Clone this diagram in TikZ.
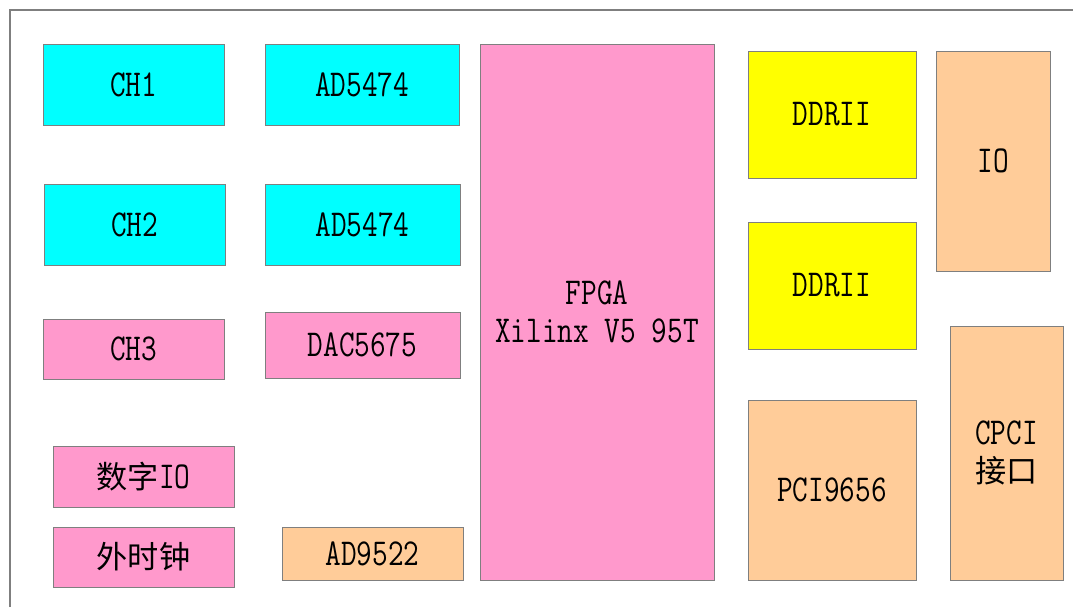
\documentclass[tikz,border=0pt]{standalone}
\usepackage{fontspec}
\setmonofont[FakeStretch=0.8]{Latin Modern Mono}
\newfontfamily\cjk[Scale=0.82]{Noto Sans CJK SC}
\usetikzlibrary{positioning}
\definecolor{chipCyan}{HTML}{00FFFF}
\definecolor{chipPink}{HTML}{FF99CC}
\definecolor{chipPeach}{HTML}{FFCC99}
\definecolor{chipYellow}{HTML}{FFFF00}
\definecolor{chipEdge}{HTML}{7F7F7F}

\begin{document}
\begin{tikzpicture}[
        x=0.5pt, y=-0.5pt,
        chip/.style={rectangle, draw=chipEdge, line width=0.5pt, inner sep=0pt,
            font=\ttfamily\fontsize{19}{19}\selectfont, align=center},
        adc/.style={chip, fill=chipCyan},
        logic/.style={chip, fill=chipPink},
        iface/.style={chip, fill=chipPeach},
        memory/.style={chip, fill=chipYellow},
        frame/.style={draw=chipEdge, line width=0.6pt},
        ]
        \useasboundingbox (0,0) rectangle (1073,607);

        % Frame
        \coordinate (fbot) at (10,607);
        \coordinate (fcorner) at (10,10);
        \coordinate (fright) at (1073,10);
        \draw[frame] (fbot) -- (fcorner) -- (fright);

        % Input channels
        \node[adc, minimum width=90.5pt, minimum height=40.5pt] (ch1) at (133.5,84.5) {CH1};
        \node[adc, minimum width=90.5pt, minimum height=40.5pt] (ch2) at (134.5,224.5) {CH2};
        \node[logic, minimum width=90.5pt, minimum height=30pt] (ch3) at (133.5,349) {CH3};

        % Converters
        \node[adc, minimum width=97pt, minimum height=40.5pt] (ada) at (362,84.5) {AD5474};
        \node[adc, minimum width=97.5pt, minimum height=40.5pt] (adb) at (362.5,224.5) {AD5474};
        \node[logic, minimum width=97.5pt, minimum height=33pt] (dac) at (362.5,345) {DAC5675};

        % Digital IO and clock
        \node[logic, minimum width=90.5pt, minimum height=30.5pt] (dio) at (143.5,476.5) {{\cjk 数字}IO};
        \node[logic, minimum width=90.5pt, minimum height=30pt] (clk) at (143.5,557) {\cjk 外时钟};
        \node[iface, minimum width=90.5pt, minimum height=26.5pt] (pll) at (372.5,553.5) {AD9522};

        % FPGA
        \node[logic, minimum width=117pt, minimum height=268pt] (fpga) at (597,312)
        {FPGA\\Xilinx V5 95T};

        % Memory
        \node[memory, minimum width=84pt, minimum height=63.5pt] (ddra) at (832,114.5) {DDRII};
        \node[memory, minimum width=84pt, minimum height=63.5pt] (ddrb) at (832,285.5) {DDRII};

        % Bus and connectors
        \node[iface, minimum width=57pt, minimum height=110pt] (io) at (993,161) {IO};
        \node[iface, minimum width=84pt, minimum height=90pt] (pci) at (832,490) {PCI9656};
        \node[iface, minimum width=56.5pt, minimum height=127pt] (cpci) at (1006.5,453)
        {CPCI\\{\cjk 接口}};
    \end{tikzpicture}
\end{document}
